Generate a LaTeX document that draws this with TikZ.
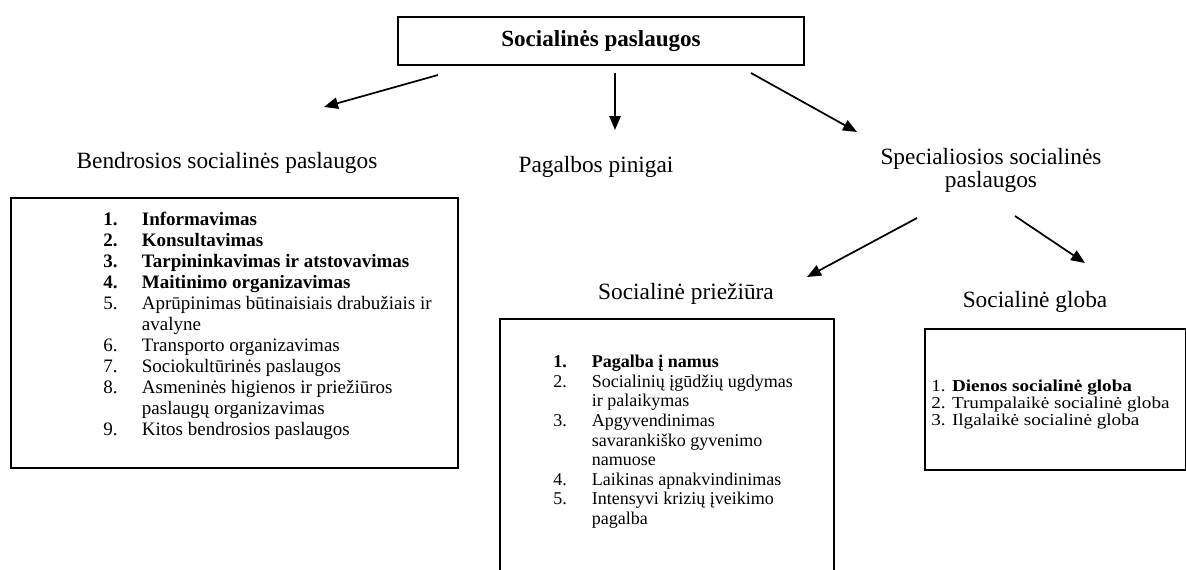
\documentclass[tikz,border=0pt]{standalone}
\usepackage{fontspec}
\setmainfont{Liberation Serif}
\newfontfamily\globafont[FakeStretch=1.15]{Liberation Serif}
\usetikzlibrary{arrows.meta,positioning,calc}
\newcommand{\itm}[2]{\makebox[29pt][l]{#1}#2}

\begin{document}
\begin{tikzpicture}[x=0.75pt, y=-0.75pt, every node/.style={inner sep=0pt}]
          \tikzstyle{arrow} = [draw, -{Triangle[length=10.5pt,width=8.5pt]}, line width=1.3pt]
          \tikzstyle{frame} = [draw, line width=1.3pt]
          \tikzstyle{head} = [font=\fontsize{17.5pt}{17.3pt}\selectfont, align=center]
          \useasboundingbox (0,0) rectangle (1186,569);

          \node[frame, minimum width=304.5pt, minimum height=36pt,
            font=\bfseries\fontsize{17.3pt}{20pt}\selectfont] (services) at (601,41)
            {Socialinės paslaugos};

          \node[head, anchor=base] (general) at (227,168) {Bendrosios socialinės paslaugos};
          \node[head, anchor=base] (money) at (596,172) {Pagalbos pinigai};
          \node[head, anchor=north] (special) at (991,148) {Specialiosios socialinės\\paslaugos};
          \node[head, anchor=base] (care) at (686,299) {Socialinė priežiūra};
          \node[head, anchor=base] (custody) at (1035,307) {Socialinė globa};

          \node[frame, anchor=north west, minimum width=335.25pt, minimum height=202.5pt]
            (generalbox) at (10,197) {};
          \node[frame, anchor=north west, minimum width=250.5pt, minimum height=211.5pt]
            (carebox) at (499,318) {};
          \node[frame, anchor=north west, minimum width=195.75pt, minimum height=105.75pt]
            (custodybox) at (924,328) {};

          \node[anchor=north west, align=left, font=\fontsize{14.25pt}{15.75pt}\selectfont]
            (generallist) at (103,212)
            { \itm{\textbf{1.}}{\textbf{Informavimas}}\\
              \itm{\textbf{2.}}{\textbf{Konsultavimas}}\\
              \itm{\textbf{3.}}{\textbf{Tarpininkavimas ir atstovavimas}}\\
              \itm{\textbf{4.}}{\textbf{Maitinimo organizavimas}}\\
              \itm{5.}{Aprūpinimas būtinaisiais drabužiais ir}\\
              \itm{}{avalyne}\\
              \itm{6.}{Transporto organizavimas}\\
              \itm{7.}{Sociokultūrinės paslaugos}\\
              \itm{8.}{Asmeninės higienos ir priežiūros}\\
              \itm{}{paslaugų organizavimas}\\
              \itm{9.}{Kitos bendrosios paslaugos} };
          \node[anchor=north west, align=left, font=\fontsize{13.5pt}{14.7pt}\selectfont]
            (carelist) at (553,355)
            { \itm{\textbf{1.}}{\textbf{Pagalba į namus}}\\
              \itm{2.}{Socialinių įgūdžių ugdymas}\\
              \itm{}{ir palaikymas}\\
              \itm{3.}{Apgyvendinimas}\\
              \itm{}{savarankiško gyvenimo}\\
              \itm{}{namuose}\\
              \itm{4.}{Laikinas apnakvindinimas}\\
              \itm{5.}{Intensyvi krizių įveikimo}\\
              \itm{}{pagalba} };
          \node[anchor=north west, align=left, font=\globafont\fontsize{12.5pt}{12.8pt}\selectfont]
            (custodylist) at (931,380)
            { 1. \textbf{Dienos socialinė globa}\\
              2. Trumpalaikė socialinė globa\\
              3. Ilgalaikė socialinė globa };

          \coordinate (generalfrom) at (438,75);
          \coordinate (generalto) at (324,107);
          \coordinate (moneyfrom) at (615,73);
          \coordinate (moneyto) at (615,130);
          \coordinate (specialfrom) at (751,73);
          \coordinate (specialto) at (857,132);
          \coordinate (carefrom) at (917,218);
          \coordinate (careto) at (807,277);
          \coordinate (custodyfrom) at (1015,216);
          \coordinate (custodyto) at (1085,263);

          \path[arrow] (generalfrom) -- (generalto);
          \path[arrow] (moneyfrom) -- (moneyto);
          \path[arrow] (specialfrom) -- (specialto);
          \path[arrow] (carefrom) -- (careto);
          \path[arrow] (custodyfrom) -- (custodyto);
        \end{tikzpicture}
\end{document}
